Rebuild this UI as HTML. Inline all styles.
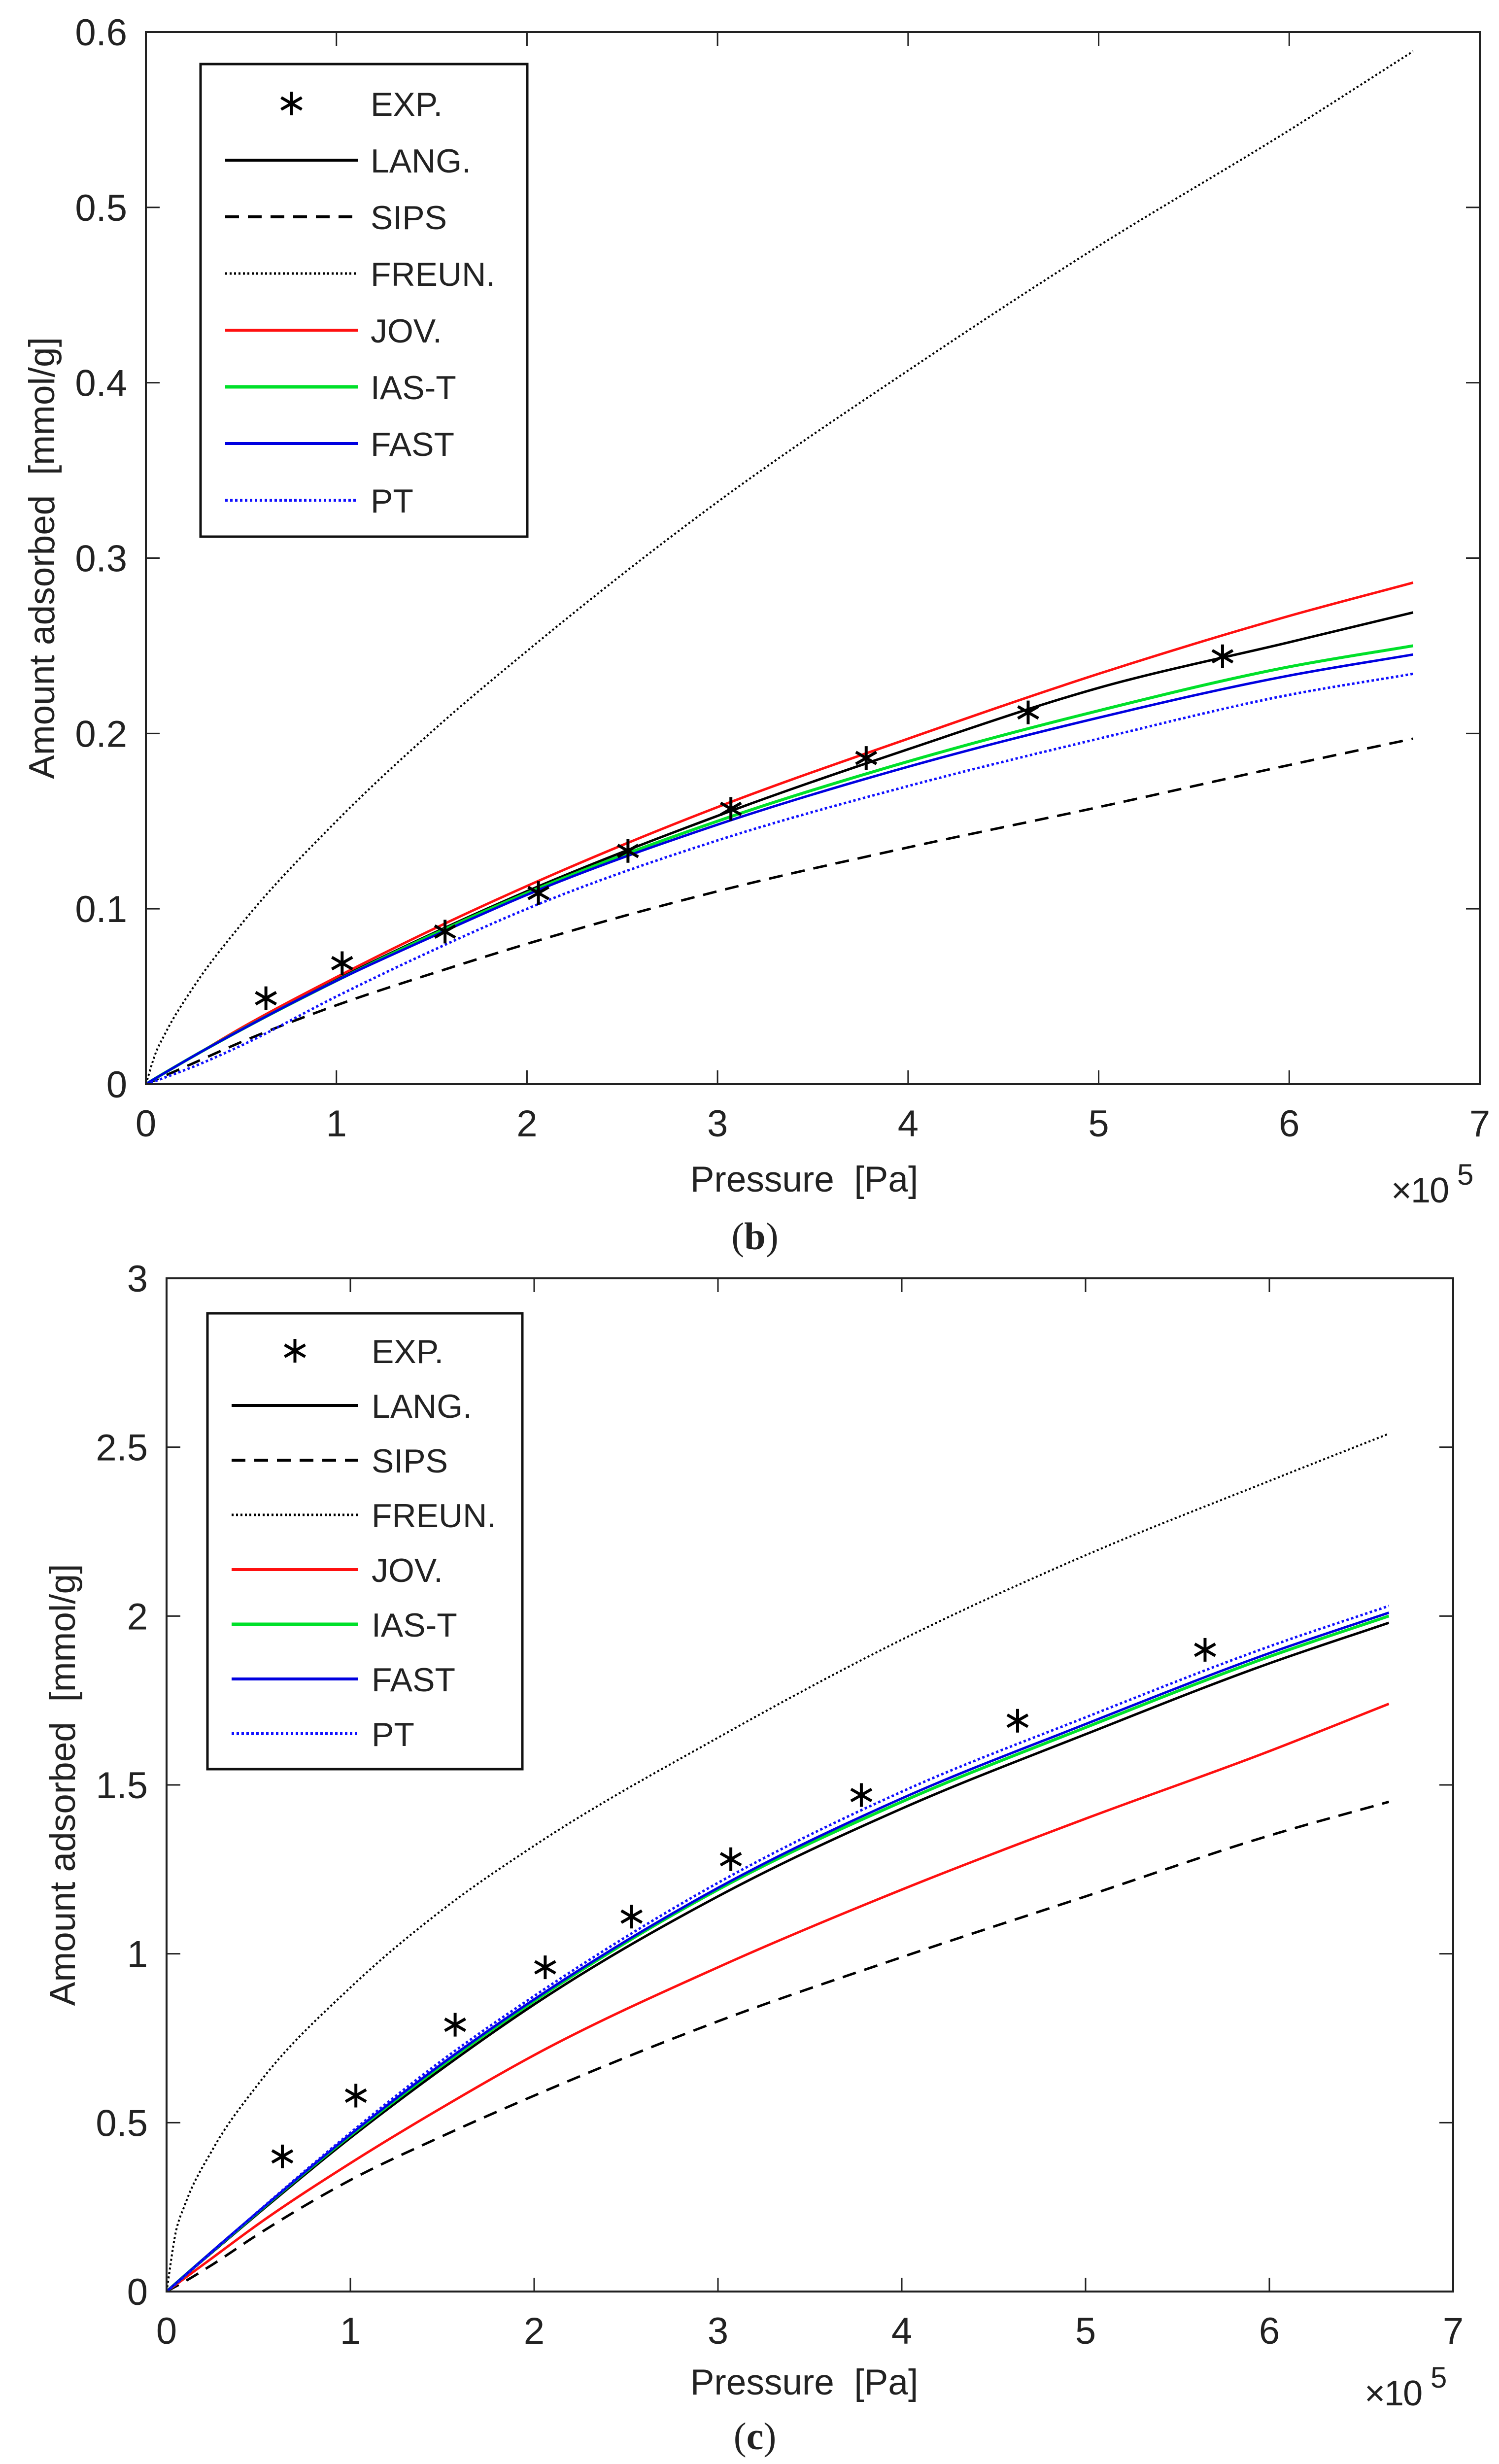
<!DOCTYPE html>
<html><head><meta charset="utf-8">
<style>
html,body{margin:0;padding:0;background:#fff;overflow:hidden;}
svg{display:block;}
text{font-family:"Liberation Sans",sans-serif;fill:#222;}
</style></head>
<body>
<svg id="fig" width="3042" height="5045" viewBox="0 0 3042 5045" xmlns="http://www.w3.org/2000/svg"></svg>
<script>
// ---- data ----
const pressures = [0, 0.05, 0.1, 0.25, 0.5, 1, 1.5, 2, 3, 4, 5, 6, 6.65]; // x1e5 Pa
const expPressures = [0.63, 1.03, 1.57, 2.06, 2.53, 3.07, 3.78, 4.63, 5.65];
const xTicks = [0,1,2,3,4,5,6,7];

// panel b
const bExp    = [0.049, 0.069, 0.087, 0.109, 0.133, 0.157, 0.186, 0.212, 0.244];
const bLang   = [0, 0.0033, 0.0065, 0.0159, 0.0311, 0.0596, 0.0857, 0.110, 0.153, 0.191, 0.226, 0.252, 0.269];
const bSips   = [0, 0.0024, 0.0048, 0.012, 0.024, 0.045, 0.063, 0.080, 0.110, 0.135, 0.158, 0.182, 0.197];
const bFreun  = [0, 0.0173, 0.0286, 0.0554, 0.0911, 0.150, 0.201, 0.247, 0.332, 0.407, 0.478, 0.544, 0.589];
const bJov    = [0, 0.0033, 0.0066, 0.016, 0.032, 0.061, 0.088, 0.113, 0.158, 0.197, 0.234, 0.267, 0.286];
const bIas    = [0, 0.0033, 0.0065, 0.016, 0.031, 0.059, 0.085, 0.109, 0.150, 0.184, 0.213, 0.238, 0.250];
const bFast   = [0, 0.0033, 0.0065, 0.016, 0.031, 0.059, 0.084, 0.108, 0.148, 0.181, 0.209, 0.233, 0.245];
const bPt     = [0, 0.0018, 0.0038, 0.010, 0.022, 0.050, 0.076, 0.100, 0.139, 0.170, 0.197, 0.222, 0.234];
const bYTicks = [0, 0.1, 0.2, 0.3, 0.4, 0.5, 0.6];
const bYTickLabels = ["0","0.1","0.2","0.3","0.4","0.5","0.6"];

// panel c
const cExp    = [0.40, 0.58, 0.79, 0.96, 1.11, 1.28, 1.47, 1.69, 1.90];
const cLang   = [0, 0.023, 0.047, 0.117, 0.232, 0.455, 0.660, 0.850, 1.17, 1.43, 1.65, 1.86, 1.98];
const cSips   = [0, 0.015, 0.030, 0.080, 0.170, 0.330, 0.460, 0.58, 0.80, 0.99, 1.17, 1.35, 1.45];
const cFreun  = [0, 0.175, 0.257, 0.420, 0.615, 0.90, 1.13, 1.32, 1.64, 1.93, 2.18, 2.40, 2.54];
const cJov    = [0, 0.020, 0.040, 0.100, 0.200, 0.380, 0.545, 0.70, 0.96, 1.19, 1.40, 1.60, 1.74];
const cIas    = [0, 0.024, 0.048, 0.119, 0.236, 0.462, 0.670, 0.860, 1.19, 1.45, 1.67, 1.88, 2.00];
const cFast   = [0, 0.024, 0.048, 0.120, 0.237, 0.465, 0.675, 0.865, 1.195, 1.46, 1.68, 1.89, 2.01];
const cPt     = [0, 0.022, 0.046, 0.118, 0.238, 0.470, 0.685, 0.875, 1.21, 1.48, 1.70, 1.91, 2.03];
const cYTicks = [0, 0.5, 1, 1.5, 2, 2.5, 3];
const cYTickLabels = ["0","0.5","1","1.5","2","2.5","3"];

const seriesNames = ["LANG.","SIPS","FREUN.","JOV.","IAS-T","FAST","PT"];

// ---- drawing ----
const NS = "http://www.w3.org/2000/svg";
const svg = document.getElementById("fig");
function mk(tag, attrs, parent){
  const e = document.createElementNS(NS, tag);
  for (const k in attrs) e.setAttribute(k, attrs[k]);
  (parent||svg).appendChild(e);
  return e;
}
const styles = {
  "LANG.":  {stroke:"#000", dash:null, w:5},
  "SIPS":   {stroke:"#000", dash:"28 18", w:5},
  "FREUN.": {stroke:"#000", dash:"4 5", w:4},
  "JOV.":   {stroke:"#ff1010", dash:null, w:5},
  "IAS-T":  {stroke:"#00e02a", dash:null, w:6},
  "FAST":   {stroke:"#0000e0", dash:null, w:5},
  "PT":     {stroke:"#1010ff", dash:"5 5", w:5}
};
// Hermite spline with x-aware tangents (pixel space)
function smoothPath(pts){
  const n = pts.length;
  const sec = [];
  for (let i=0;i<n-1;i++) sec.push((pts[i+1][1]-pts[i][1])/(pts[i+1][0]-pts[i][0]));
  const m = [];
  for (let i=0;i<n;i++){
    if (i===0) m.push(sec[0]);
    else if (i===n-1) m.push(sec[n-2]);
    else {
      const h0 = pts[i][0]-pts[i-1][0], h1 = pts[i+1][0]-pts[i][0];
      m.push((sec[i-1]*h1 + sec[i]*h0)/(h0+h1));
    }
  }
  let d = "M" + pts[0][0].toFixed(1) + "," + pts[0][1].toFixed(1);
  for (let i=0;i<n-1;i++){
    const h = pts[i+1][0]-pts[i][0];
    const c1x = pts[i][0]+h/3, c1y = pts[i][1]+m[i]*h/3;
    const c2x = pts[i+1][0]-h/3, c2y = pts[i+1][1]-m[i+1]*h/3;
    d += " C"+c1x.toFixed(1)+","+c1y.toFixed(1)+" "+c2x.toFixed(1)+","+c2y.toFixed(1)+" "+pts[i+1][0].toFixed(1)+","+pts[i+1][1].toFixed(1);
  }
  return d;
}
function star(g, cx, cy, r, name){
  const s = mk("g", {stroke:"#000","stroke-width":6,"stroke-linecap":"butt"}, g);
  
  
  mk("line",{x1:cx,y1:cy-r,x2:cx,y2:cy+r},s);
  const a = r*0.87, b = r*0.5;
  mk("line",{x1:cx-a,y1:cy-b,x2:cx+a,y2:cy+b},s);
  mk("line",{x1:cx-a,y1:cy+b,x2:cx+a,y2:cy-b},s);
}

function drawPanel(p){
  const g = mk("g", {});
  
  
  const X = v => p.L + (v - 0) / 7 * (p.R - p.L);
  const Y = v => p.B - v / p.ymax * (p.B - p.T);
  const clipId = p.id + "-clip";
  const defs = mk("defs", {}, g);
  const cp = mk("clipPath", {id:clipId}, defs);
  mk("rect", {x:p.L, y:p.T, width:p.R-p.L, height:p.B-p.T}, cp);
  const cg = mk("g", {"clip-path":"url(#"+clipId+")"}, g);
  const order = ["FREUN.","SIPS","LANG.","JOV.","IAS-T","FAST","PT"];
  order.forEach(nm => {
    const vals = p.series[nm];
    const pts = pressures.map((x,i)=>[X(x), Y(vals[i])]);
    const st = styles[nm];
    const path = mk("path", {d:smoothPath(pts), fill:"none", stroke:st.stroke, "stroke-width":st.w}, cg);
    if (st.dash) path.setAttribute("stroke-dasharray", st.dash);
    
    
  });
  expPressures.forEach((x,i)=>{
    star(g, X(x), Y(p.exp[i]), 24, p.id + '-exp-point');
  });
  const frame = mk("rect", {x:p.L, y:p.T, width:p.R-p.L, height:p.B-p.T, fill:"none", stroke:"#222", "stroke-width":4}, g);
  
  
  xTicks.forEach(t=>{
    const x = X(t);
    mk("line",{x1:x,y1:p.B,x2:x,y2:p.B-28,stroke:"#222","stroke-width":3}, g);
    mk("line",{x1:x,y1:p.T,x2:x,y2:p.T+28,stroke:"#222","stroke-width":3}, g);
    const tx = mk("text",{x:x,y:p.B+106,"text-anchor":"middle","font-size":76}, g);
    tx.textContent = String(t);
    
    
  });
  p.yTicks.forEach((t,i)=>{
    const y = Y(t);
    mk("line",{x1:p.L,y1:y,x2:p.L+28,y2:y,stroke:"#222","stroke-width":3}, g);
    mk("line",{x1:p.R,y1:y,x2:p.R-28,y2:y,stroke:"#222","stroke-width":3}, g);
    const ty = mk("text",{x:p.L-38,y:y+27,"text-anchor":"end","font-size":76}, g);
    ty.textContent = p.yTickLabels[i];
    
    
  });
  const xl = mk("text",{x:1632,y:p.xLabelY,"text-anchor":"middle","font-size":73}, g);
  xl.textContent = "Pressure\u00a0 [Pa]";
  
  
  const yl = mk("text",{x:0,y:0,"text-anchor":"middle","font-size":73,transform:"translate("+p.yLabelX+","+((p.T+p.B)/2)+") rotate(-90)"}, g);
  yl.textContent = "Amount adsorbed\u00a0 [mmol/g]";
  
  
  const ex = mk("text",{x:p.R-180,y:p.xLabelY+22,"font-size":72,"letter-spacing":"-2"}, g);
  ex.textContent = "\u00d710";
  
  
  const ex5 = mk("text",{x:p.R-46,y:p.xLabelY-14,"font-size":60}, g);
  ex5.textContent = "5";
  
  
  const cap = mk("text",{x:1532,y:p.capY,"text-anchor":"middle","font-size":78,style:"font-family:'Liberation Serif',serif"}, g);
  
  
  const t1 = mk("tspan",{},cap); t1.textContent="(";
  const t2 = mk("tspan",{"font-weight":"bold"},cap); t2.textContent=p.id.slice(-1);
  const t3 = mk("tspan",{},cap); t3.textContent=")";
  const lg = mk("g",{}, g);
  
  
  mk("rect",{x:p.lg.x,y:p.lg.y,width:p.lg.w,height:p.lg.h,fill:"#fff",stroke:"#111","stroke-width":5}, lg);
  const entries = ["EXP."].concat(seriesNames);
  entries.forEach((nm,i)=>{
    const cy = p.lg.y0 + i*p.lg.dy;
    const e = mk("g",{}, lg);
    
    
    if (nm === "EXP.") {
      star(e, (p.lg.lx1+p.lg.lx2)/2, cy, 24, 'legend-exp-marker');
    } else {
      const st = styles[nm];
      const ln = mk("line",{x1:p.lg.lx1,y1:cy,x2:p.lg.lx2,y2:cy,stroke:st.stroke,"stroke-width":st.w+1}, e);
      if (st.dash) ln.setAttribute("stroke-dasharray", st.dash);
    }
    const t = mk("text",{x:p.lg.tx,y:cy+25,"font-size":68}, e);
    t.textContent = nm;
  });
}

drawPanel({
  id:"panel-b", L:296, R:3003, T:65, B:2200, ymax:0.6,
  yTicks:bYTicks, yTickLabels:bYTickLabels, exp:bExp,
  series:{"LANG.":bLang,"SIPS":bSips,"FREUN.":bFreun,"JOV.":bJov,"IAS-T":bIas,"FAST":bFast,"PT":bPt},
  xLabelY:2418, yLabelX:110, capY:2535,
  lg:{x:407,y:130,w:663,h:959,y0:210,dy:115,lx1:457,lx2:726,tx:752}
});
drawPanel({
  id:"panel-c", L:338, R:2949, T:2594, B:4650, ymax:3,
  yTicks:cYTicks, yTickLabels:cYTickLabels, exp:cExp,
  series:{"LANG.":cLang,"SIPS":cSips,"FREUN.":cFreun,"JOV.":cJov,"IAS-T":cIas,"FAST":cFast,"PT":cPt},
  xLabelY:4859, yLabelX:152, capY:4970,
  lg:{x:421,y:2665,w:639,h:925,y0:2741,dy:111,lx1:470,lx2:727,tx:754}
});
</script>
</body></html>
